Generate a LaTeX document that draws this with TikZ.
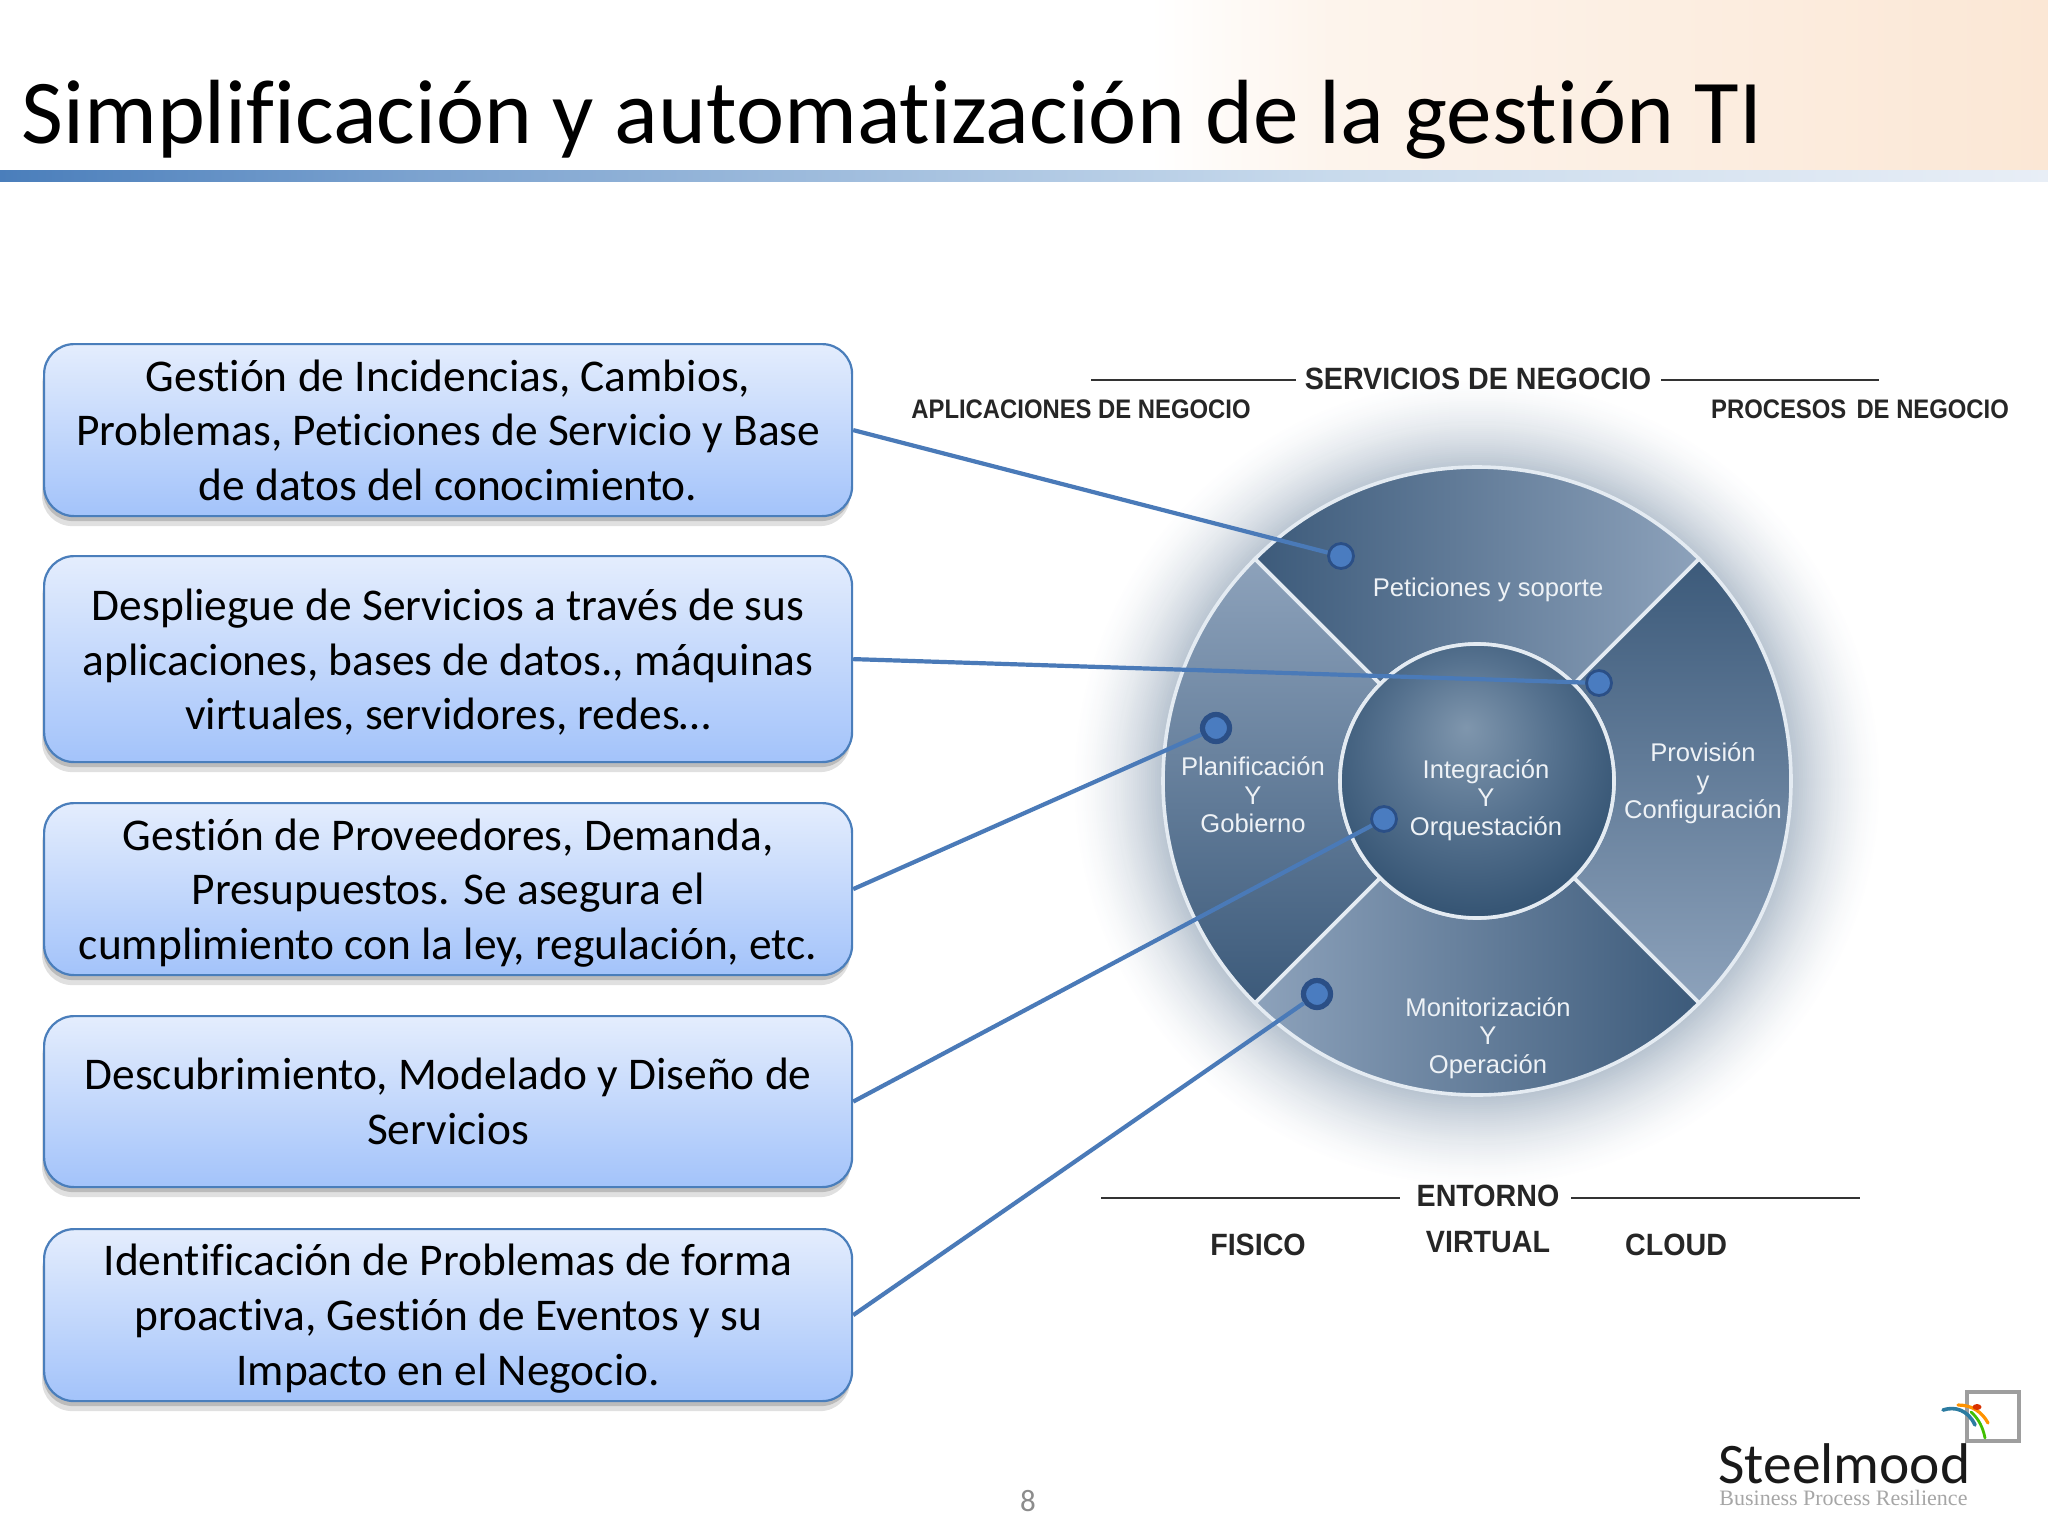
\documentclass[tikz,border=0pt]{standalone}
\usepackage{fontspec}
\usepackage{graphicx}
\setmainfont{Carlito}[Ligatures=NoCommon]
\newfontfamily\arialf{Liberation Sans}
\newfontfamily\serff{Liberation Serif}
\usetikzlibrary{shadows,calc}
\definecolor{boxtop}{HTML}{E4EDFD}
\definecolor{boxbot}{HTML}{A3C3FA}
\definecolor{boxline}{HTML}{4A7EBB}
\definecolor{linkc}{HTML}{4A7AB8}
\definecolor{dotc}{HTML}{4A7CC0}
\definecolor{dotb}{HTML}{2B4F86}
\definecolor{segd}{HTML}{3C5A7A}
\definecolor{segm}{HTML}{66809D}
\definecolor{segl}{HTML}{8DA2BB}
\definecolor{ringc}{HTML}{E4EBF2}
\definecolor{wheelt}{HTML}{EEF2F6}
\definecolor{peach}{HTML}{FBE7D5}
\definecolor{haloa}{HTML}{A4B3C3}
\definecolor{orba}{HTML}{7F96AD}
\definecolor{orbb}{HTML}{56728F}
\definecolor{orbc}{HTML}{375675}
\definecolor{orbd}{HTML}{2E4A68}
\definecolor{bara}{HTML}{4A7EBB}
\definecolor{barb}{HTML}{7BA2CF}
\definecolor{barc}{HTML}{AFC8E3}
\definecolor{bard}{HTML}{C8DAEC}
\definecolor{bare}{HTML}{E8EEF6}
\pgfdeclareradialshading{orb}{\pgfpoint{-2bp}{9.8bp}}{
  color(0bp)=(orba); color(15bp)=(orbb); color(28bp)=(orbc); color(36bp)=(orbd); color(50bp)=(orbd)}
\pgfdeclarehorizontalshading{barshade}{100bp}{
  color(0bp)=(bara); color(25bp)=(bara); color(35bp)=(barb); color(50bp)=(barc);
  color(57.5bp)=(bard); color(75bp)=(bare); color(100bp)=(bare)}
\pgfdeclarehorizontalshading{headshade}{100bp}{
  color(0bp)=(white); color(25bp)=(white); color(35bp)=(white!55!peach); color(75bp)=(peach); color(100bp)=(peach)}
\newcommand{\hs}[1]{\scalebox{.89}[1]{#1}}
\newcommand{\hb}[1]{\scalebox{.93}[1]{#1}}
\tikzset{
  msgbox/.style={draw=boxline,line width=1.1pt,rounded corners=15pt,
    top color=boxtop,bottom color=boxbot,text width=404pt,
    align=flush center,font=\fontsize{22.7}{27.3}\selectfont,inner sep=0pt,anchor=north west,
    general shadow={fill=black,opacity=.12,shadow xshift=-1pt,shadow yshift=-5pt},
    general shadow={fill=black,opacity=.16,shadow xshift=-.5pt,shadow yshift=-2.5pt}},
  linkline/.style={draw=linkc,line width=2.1pt},
  pin/.style={circle,fill=dotc,draw=dotb,line width=1.4pt,minimum size=12.5pt,inner sep=0pt},
  pinb/.style={pin,line width=2.6pt,minimum size=13.5pt},
  wheeltext/.style={text=wheelt,align=flush center,font=\arialf\fontsize{12.8}{14.2}\selectfont},
  headtext/.style={text=black!85,font=\arialf\bfseries\fontsize{13.4}{16}\selectfont},
  headbig/.style={text=black!85,font=\arialf\bfseries\fontsize{15.4}{18}\selectfont},
  rulel/.style={draw=black!80,line width=1.2pt},
  seg/.style={draw=ringc,line width=1.8pt},
}
\newcommand{\wheelsec}[3]{% start angle, end angle, shading command
  \begin{scope}
    \clip (#1:314) arc[start angle=#1,end angle=#2,radius=314]
      -- (#2:137) arc[start angle=#2,end angle=#1,radius=137] -- cycle;
    #3
  \end{scope}
  \draw[seg] (#1:314) arc[start angle=#1,end angle=#2,radius=314]
      -- (#2:137) arc[start angle=#2,end angle=#1,radius=137] -- cycle;
}
\begin{document}
\begin{tikzpicture}[x=.5pt,y=.5pt,yscale=-1]
\useasboundingbox (0,0) rectangle (2048,1536);
\fill[white] (0,0) rectangle (2048,1536);
% header
\shade[shading=headshade] (1150,0) rectangle (2048,170);
\shade[shading=barshade] (0,170) rectangle (2048,181);
\node[anchor=base west,inner sep=0pt,text=black,font=\fontsize{45.6}{54}\selectfont] (title) at (21,143) {Simplificación y automatización de la gestión TI};
% halo
\foreach \i in {0,...,49}{
  \pgfmathsetmacro{\rr}{410-2*\i}
  \pgfmathtruncatemacro{\pp}{82*(\i/49)^1.6}
  \fill[haloa!\pp!white] (1477,783) circle[radius=\rr];
}
% wheel
\begin{scope}[shift={(1477,781)}]
  \wheelsec{225}{315}{\shade[left color=segd,middle color=segm,right color=segl] (-222,-320) rectangle (222,0);}
  \wheelsec{-45}{45}{\shade[top color=segd,middle color=segm,bottom color=segl] (0,-222) rectangle (320,222);}
  \wheelsec{45}{135}{\shade[left color=segl,middle color=segm,right color=segd] (-222,0) rectangle (222,320);}
  \wheelsec{135}{225}{\shade[top color=segl,middle color=segm,bottom color=segd] (-320,-222) rectangle (0,222);}
  \fill[orbd] (0,0) circle[radius=137];
  \shade[shading=orb] (0,0) circle[radius=137];
  \draw[seg] (0,0) circle[radius=137];
\end{scope}
% wheel labels
\node[wheeltext] (t1) at (1488,590) {Peticiones y soporte};
\node[wheeltext] (t2) at (1253,795) {Planificación\\Y\\Gobierno};
\node[wheeltext] (t3) at (1486,800) {Integración\\Y\\Orquestación};
\node[wheeltext] (t4) at (1703,783) {Provisión\\y\\Configuración};
\node[wheeltext] (t5) at (1488,1038) {Monitorización\\Y\\Operación};
% headings
\node[headbig] (h1) at (1478,379) {\hb{SERVICIOS DE NEGOCIO}};
\node[headtext] (h2) at (1081,409) {\hs{APLICACIONES DE NEGOCIO}};
\node[headtext] (h3) at (1860,409) {\hs{PROCESOS\hspace{2pt} DE NEGOCIO}};
\coordinate (r1a) at (1091,380); \coordinate (r1b) at (1296,380);
\coordinate (r2a) at (1661,380); \coordinate (r2b) at (1879,380);
\draw[rulel] (r1a) -- (r1b);
\draw[rulel] (r2a) -- (r2b);
\node[headbig] (e0) at (1488,1196) {\hb{ENTORNO}};
\coordinate (r3a) at (1101,1198); \coordinate (r3b) at (1400,1198);
\coordinate (r4a) at (1571,1198); \coordinate (r4b) at (1860,1198);
\draw[rulel] (r3a) -- (r3b);
\draw[rulel] (r4a) -- (r4b);
\node[headbig] (e1) at (1258,1245) {\hb{FISICO}};
\node[headbig] (e2) at (1488,1242) {\hb{VIRTUAL}};
\node[headbig] (e3) at (1676,1245) {\hb{CLOUD}};
% message boxes
\node[msgbox,minimum height=86pt] (b1) at (43,343) {Gestión de Incidencias, Cambios,\\Problemas, Peticiones de Servicio y Base\\de datos del conocimiento.};
\node[msgbox,minimum height=103pt] (b2) at (43,555) {\rule{0pt}{18.8pt}Despliegue de Servicios a través de sus\\aplicaciones, bases de datos., máquinas\\virtuales, servidores, redes…};
\node[msgbox,minimum height=86pt] (b3) at (43,802) {\rule{0pt}{19.6pt}Gestión de Proveedores, Demanda,\\Presupuestos. Se asegura el\\cumplimiento con la ley, regulación, etc.};
\node[msgbox,minimum height=85.5pt] (b4) at (43,1015) {Descubrimiento, Modelado y Diseño de\\Servicios};
\node[msgbox,minimum height=86pt] (b5) at (43,1228) {\rule{0pt}{19.2pt}Identificación de Problemas de forma\\proactiva, Gestión de Eventos y su\\Impacto en el Negocio.};
% pins and connectors
\node[pin] (d1) at (1341,556) {};
\node[pin] (d2) at (1599,683) {};
\node[pinb] (d3) at (1216,728) {};
\node[pin] (d4) at (1384,819) {};
\node[pinb] (d5) at (1317,994) {};
\draw[linkline] (b1.east) -- (d1);
\draw[linkline] (b2.east) -- (d2);
\draw[linkline] (b3.east) -- (d3);
\draw[linkline] (b4.east) -- (d4);
\draw[linkline] (b5.east) -- (d5);
% page number
\node[text=black!45,font=\fontsize{15.5}{18}\selectfont] (pg) at (1028,1501) {8};
% logo
\draw[black!38,line width=1.6pt] (1967,1392) rectangle (2019,1441);
\draw[line width=1.6pt,draw=orange!85!yellow,line cap=round] (1958,1405) .. controls (1972,1405) and (1982,1412) .. (1988,1423);
\draw[line width=1.4pt,draw=green!50!olive,line cap=round] (1971,1412) .. controls (1979,1419) and (1983,1428) .. (1985,1438);
\draw[line width=1.8pt,draw=linkc!60!teal,line cap=round] (1943,1410) .. controls (1955,1406) and (1968,1410) .. (1975,1425);
\fill[red!55!orange!85!black] (1977,1407) ellipse[x radius=4.5,y radius=3];
\node[anchor=base west,inner sep=0pt,text=black!90,font=\fontsize{28.7}{30}\selectfont] (logo) at (1718,1483) {Steelmood};
\node[anchor=base west,inner sep=0pt,text=black!35,font=\serff\fontsize{11}{12}\selectfont] (logob) at (1719,1505) {Business Process Resilience};
\end{tikzpicture}
\end{document}
